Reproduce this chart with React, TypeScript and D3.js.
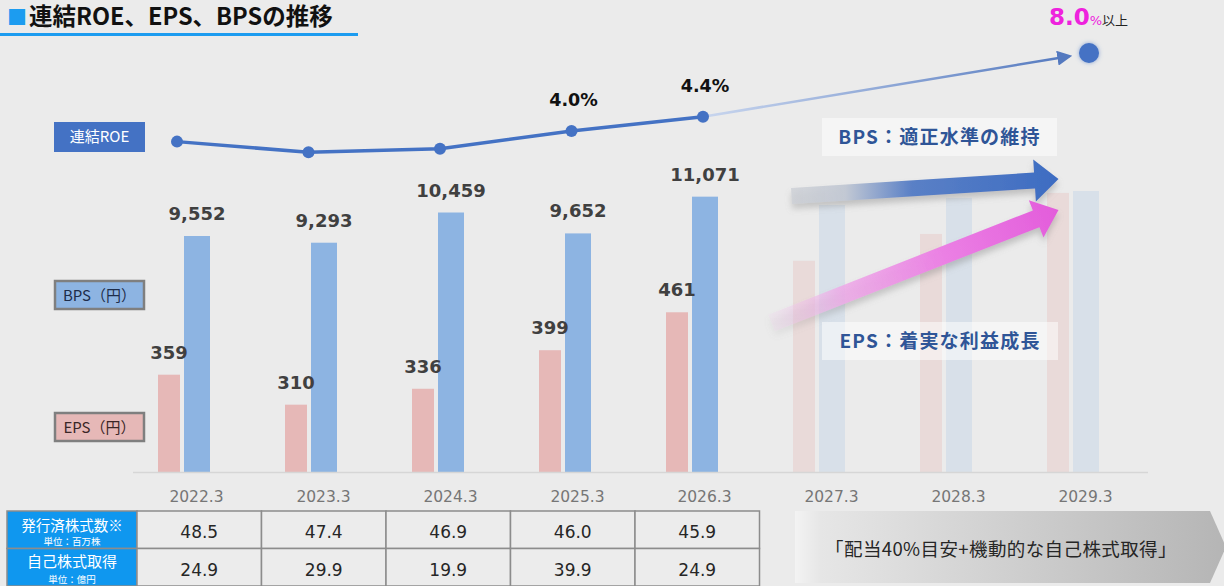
import { line, scaleBand, scaleLinear } from "d3";

const categories = ["2022.3", "2023.3", "2024.3", "2025.3", "2026.3", "2027.3", "2028.3", "2029.3"];
const epsValues = [359, 310, 336, 399, 461, 545, 589, 656];
const bpsValues = [9552, 9293, 10459, 9652, 11071, 10750, 11020, 11290];
const actualCount = 5;

const roeValues = [3.7, 3.4, 3.5, 4.0, 4.4];
const roeLabels = ["", "", "", "4.0%", "4.4%"];
const roeTarget = 8.0;

const tableYears = ["2022.3", "2023.3", "2024.3", "2025.3", "2026.3"];
const sharesIssued = ["48.5", "47.4", "46.9", "46.0", "45.9"];
const buybacks = ["24.9", "29.9", "19.9", "39.9", "24.9"];

const W = 1224;
const H = 586;
const JP = "'Noto Sans CJK JP', sans-serif";
const NUM = "'DejaVu Sans', 'Noto Sans CJK JP', sans-serif";

const baseY = 472;

// build an arrow polygon along a centre line
const arrowPath = (x1: number, y1: number, x2: number, y2: number, bw: number, hw: number, hl: number) => {
  const dx = x2 - x1;
  const dy = y2 - y1;
  const len = Math.hypot(dx, dy);
  const ux = dx / len;
  const uy = dy / len;
  const nx = -uy;
  const ny = ux;
  const bx = x2 - ux * hl;
  const by = y2 - uy * hl;
  const p = [
    [x1 + nx * bw, y1 + ny * bw],
    [bx + nx * bw, by + ny * bw],
    [bx + nx * hw, by + ny * hw],
    [x2, y2],
    [bx - nx * hw, by - ny * hw],
    [bx - nx * bw, by - ny * bw],
    [x1 - nx * bw, y1 - ny * bw],
  ];
  return "M" + p.map((d) => d.join(",")).join("L") + "Z";
};

export default function App() {
  const x = scaleBand<string>().domain(categories).range([133, 1149]);
  const cx = (c: string) => (x(c) ?? 0) + x.bandwidth() / 2;

  const yEps = scaleLinear().domain([200, 700]).range([baseY, baseY - 500 * 0.612]);
  const yBps = scaleLinear().domain([440, 12000]).range([baseY, baseY - 11560 * 0.0259]);

  const xRoe = scaleLinear().domain([0, 4, 7]).range([177, 703, 1089]);
  const yRoe = scaleLinear().domain([3.4, 4.4, 8.0]).range([152.3, 116.7, 53]);

  const roePath = line<number>()
    .x((_, i) => xRoe(i))
    .y((d) => yRoe(d))(roeValues);

  const lastI = roeValues.length - 1;
  const sx = xRoe(lastI);
  const sy = yRoe(roeValues[lastI]);
  const tx = xRoe(7);
  const ty = yRoe(roeTarget);
  const dl = Math.hypot(tx - sx, ty - sy);
  const ex = tx - ((tx - sx) / dl) * 20;
  const ey = ty - ((ty - sy) / dl) * 20;

  const tableX = scaleBand<string>().domain(tableYears).range([137, 759.5]);
  const rowTop = 511;
  const rowH = 37.5;

  // decorative trend arrows anchored to the category scale
  const arrowStart = cx("2027.3") - 40;
  const arrowEnd = cx("2029.3") - 27;
  const bpsArrow = arrowPath(arrowStart, 196, arrowEnd, 179, 8, 21, 24);
  const epsArrow = arrowPath(arrowStart - 20, 323, arrowEnd, 210, 9, 20, 24);

  return (
    <svg
      width={W}
      height={H}
      viewBox={`0 0 ${W} ${H}`}
      style={{ position: "absolute", left: 0, top: 0 }}
    >
      <defs>
        <linearGradient id="roeProj" gradientUnits="userSpaceOnUse" x1={sx} y1={sy} x2={ex} y2={ey}>
          <stop offset="0" stopColor="#c9d6ee" />
          <stop offset="1" stopColor="#5479bf" />
        </linearGradient>
        <marker id="head" viewBox="0 0 10 10" refX="8" refY="5" markerWidth="6" markerHeight="6" orient="auto" markerUnits="strokeWidth">
          <path d="M0,0L10,5L0,10Z" fill="#5479bf" />
        </marker>
        <linearGradient id="bpsGrad" gradientUnits="userSpaceOnUse" x1={arrowStart} y1={0} x2={arrowEnd} y2={0}>
          <stop offset="0" stopColor="#cdd0d6" stopOpacity="0.8" />
          <stop offset="0.2" stopColor="#c3c9d4" />
          <stop offset="0.45" stopColor="#5a80c6" />
          <stop offset="1" stopColor="#3d6cc2" />
        </linearGradient>
        <linearGradient id="epsGrad" gradientUnits="userSpaceOnUse" x1={arrowStart - 20} y1={323} x2={arrowEnd} y2={210}>
          <stop offset="0" stopColor="#efd0ec" stopOpacity="0.2" />
          <stop offset="0.25" stopColor="#eeaae8" stopOpacity="0.85" />
          <stop offset="0.6" stopColor="#eb80e4" />
          <stop offset="1" stopColor="#e35cdb" />
        </linearGradient>
        <linearGradient id="chev" x1="0" y1="0" x2="1" y2="0">
          <stop offset="0" stopColor="#f3f3f3" />
          <stop offset="0.06" stopColor="#e6e6e6" />
          <stop offset="1" stopColor="#b5b5b5" />
        </linearGradient>
        <filter id="shadow" x="-10%" y="-30%" width="120%" height="180%">
          <feDropShadow dx="0" dy="5" stdDeviation="3" floodColor="#808080" floodOpacity="0.4" />
        </filter>
        <filter id="glow" x="-60%" y="-60%" width="220%" height="220%">
          <feDropShadow dx="0" dy="0" stdDeviation="2" floodColor="#4472c4" floodOpacity="0.6" />
        </filter>
      </defs>

      <rect width={W} height={H} fill="#ebebeb" />

      {/* title */}
      <text x={7} y={25} fontFamily={JP} fontWeight={700} fontSize={23.5} fill="#111">
        <tspan fill="#1c9cf0" fontSize={20}>■</tspan>
        <tspan dx={2}>連結ROE、EPS、BPSの推移</tspan>
      </text>
      <rect x={0} y={33} width={358} height={3} fill="#1c9cf0" />

      {/* legend boxes */}
      <rect x={54} y={122} width={91} height={30} fill="#4472c4" />
      <text x={99.5} y={142} textAnchor="middle" fontFamily={JP} fontSize={15} fill="#fff">連結ROE</text>
      <rect x={55} y={281} width={89} height={28} fill="#8db4e2" stroke="#7f7f7f" strokeWidth={2.5} />
      <text x={99.5} y={300.5} textAnchor="middle" fontFamily={JP} fontSize={15} fill="#1e2d4a">BPS（円）</text>
      <rect x={55} y={413} width={89} height={28} fill="#e6b8b7" stroke="#7f7f7f" strokeWidth={2.5} />
      <text x={99.5} y={432.5} textAnchor="middle" fontFamily={JP} fontSize={15} fill="#3a2626">EPS（円）</text>

      {/* bars */}
      {categories.map((c, i) => {
        const faded = i >= actualCount;
        const ex0 = cx(c) - 38.5;
        const bx0 = cx(c) - 12.5;
        return (
          <g key={c}>
            <rect x={ex0} y={yEps(epsValues[i])} width={22} height={baseY - yEps(epsValues[i])} fill="#e6b8b7" opacity={faded ? 0.33 : 1} />
            <rect x={bx0} y={yBps(bpsValues[i])} width={26} height={baseY - yBps(bpsValues[i])} fill="#8db4e2" opacity={faded ? 0.2 : 1} />
            {!faded && (
              <>
                <text x={ex0 + 11} y={yEps(epsValues[i]) - 16} textAnchor="middle" fontFamily={NUM} fontWeight={700} fontSize={18} fill="#404040">
                  {epsValues[i].toLocaleString("en-US")}
                </text>
                <text x={bx0 + 13} y={yBps(bpsValues[i]) - 16} textAnchor="middle" fontFamily={NUM} fontWeight={700} fontSize={18} fill="#404040">
                  {bpsValues[i].toLocaleString("en-US")}
                </text>
              </>
            )}
            <text x={cx(c)} y={502} textAnchor="middle" fontFamily={NUM} fontSize={15.5} fill="#767676">{c}</text>
          </g>
        );
      })}
      <line x1={133} x2={1148} y1={baseY + 0.5} y2={baseY + 0.5} stroke="#d6d6d6" strokeWidth={1.5} />

      {/* trend arrows */}
      <path d={bpsArrow} fill="url(#bpsGrad)" filter="url(#shadow)" />
      <path d={epsArrow} fill="url(#epsGrad)" filter="url(#shadow)" />

      {/* callouts */}
      <rect x={822} y={118} width={235} height={38} fill="#ffffff" opacity={0.5} />
      <text x={939.5} y={144} textAnchor="middle" fontFamily={JP} fontWeight={700} fontSize={19} letterSpacing={1.2} fill="#2f5597">BPS：適正水準の維持</text>
      <rect x={822} y={322} width={236} height={38} fill="#ffffff" opacity={0.5} />
      <text x={940} y={348} textAnchor="middle" fontFamily={JP} fontWeight={700} fontSize={19} letterSpacing={1.2} fill="#2f5597">EPS：着実な利益成長</text>

      {/* ROE */}
      <line x1={sx} y1={sy} x2={ex} y2={ey} stroke="url(#roeProj)" strokeWidth={2.5} markerEnd="url(#head)" />
      <path d={roePath ?? ""} fill="none" stroke="#4472c4" strokeWidth={3.5} />
      {roeValues.map((v, i) => (
        <g key={i}>
          <circle cx={xRoe(i)} cy={yRoe(v)} r={6} fill="#4472c4" />
          {roeLabels[i] && (
            <text x={xRoe(i) + 2} y={yRoe(v) - 25} textAnchor="middle" fontFamily={NUM} fontWeight={700} fontSize={17.5} fill="#111">
              {roeLabels[i]}
            </text>
          )}
        </g>
      ))}
      <circle cx={tx} cy={ty} r={10} fill="#4472c4" filter="url(#glow)" />
      <text x={1049} y={25} fontFamily={NUM} fontWeight={700} fontSize={23} fill="#ee22dd">
        {roeTarget.toFixed(1)}
        <tspan fontSize={13} fontWeight={400}>%</tspan>
        <tspan fontFamily={JP} fontSize={13} fontWeight={400} fill="#222">以上</tspan>
      </text>

      {/* table */}
      {[0, 1].map((r) => (
        <rect key={r} x={7} y={rowTop + r * rowH} width={130} height={rowH} fill="#0f97ef" stroke="#8c8c8c" strokeWidth={1.5} />
      ))}
      <text x={72} y={531} textAnchor="middle" fontFamily={JP} fontSize={14.5} fill="#fff">発行済株式数※</text>
      <text x={72} y={545} textAnchor="middle" fontFamily={JP} fontSize={9.5} fill="#fff">単位：百万株</text>
      <text x={72} y={567} textAnchor="middle" fontFamily={JP} fontSize={15} fill="#fff">自己株式取得</text>
      <text x={72} y={583} textAnchor="middle" fontFamily={JP} fontSize={9.5} fill="#fff">単位：億円</text>
      {tableYears.map((c, i) => (
        <g key={c}>
          {[sharesIssued[i], buybacks[i]].map((v, r) => (
            <g key={r}>
              <rect x={tableX(c)} y={rowTop + r * rowH} width={tableX.bandwidth()} height={rowH} fill="#ececec" stroke="#8c8c8c" strokeWidth={1.5} />
              <text x={(tableX(c) ?? 0) + tableX.bandwidth() / 2} y={rowTop + r * rowH + 27} textAnchor="middle" fontFamily={NUM} fontSize={17} fill="#262626">
                {v}
              </text>
            </g>
          ))}
        </g>
      ))}

      {/* policy chevron */}
      <path d="M795,511L1210,511L1226,547L1210,583L795,583Z" fill="url(#chev)" />
      <text x={1001} y={556} textAnchor="middle" fontFamily={JP} fontSize={18.5} letterSpacing={0.4} fill="#262626">「配当40%目安+機動的な自己株式取得」</text>
    </svg>
  );
}
